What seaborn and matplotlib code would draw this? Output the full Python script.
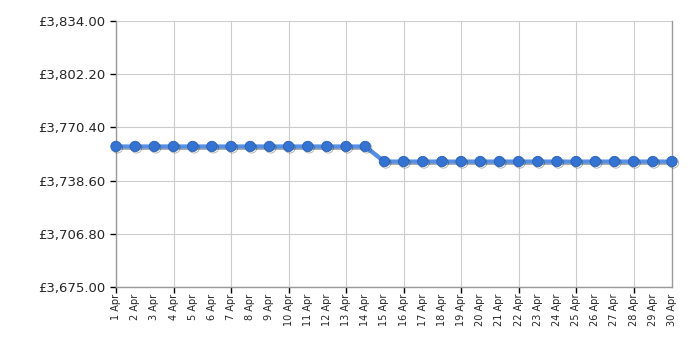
import matplotlib
matplotlib.use("Agg")
import matplotlib.pyplot as plt
import matplotlib.patheffects as pe
import seaborn as sns
import pandas as pd

days = list(range(1, 31))
labels = [f"{d} Apr" for d in days]
prices = [3759.0] * 14 + [3749.99] * 16
yticks = [3675.00, 3706.80, 3738.60, 3770.40, 3802.20, 3834.00]

df = pd.DataFrame({"day": days, "price": prices})

sns.set_style("ticks")
plt.rcParams['font.family'] = ['DejaVu Sans']

fig = plt.figure(figsize=(7, 3.5), dpi=100)
ax = fig.add_axes([116/700, 1 - 287/350, (672-116)/700, (287-21)/350])

sns.lineplot(data=df, x="day", y="price", ax=ax, color="#5590e4", linewidth=3,
             marker="o", markersize=7.5, markerfacecolor="#3573d2",
             markeredgecolor="#2a5fb0", markeredgewidth=0.6, clip_on=False, zorder=5,
             path_effects=[pe.SimpleLineShadow(offset=(1.0, -1.0), shadow_color="#111111", alpha=0.35), pe.Normal()])

ax.set_xlim(1, 30)
ax.set_ylim(3675, 3834)
ax.xaxis.remove_overlapping_locs = False
ax.set_xticks(days)
ax.set_xticklabels(labels, rotation=90, fontsize=7)
ax.set_xticks(days[::3], minor=True)
ax.tick_params(axis="x", which="major", length=0, pad=5)
ax.tick_params(axis="x", which="minor", length=4, width=1, color="black", direction="out", bottom=True)
ax.set_yticks(yticks)
ax.set_yticklabels([f"£{v:,.2f}" for v in yticks], fontsize=9.5)
ax.tick_params(axis="y", which="major", length=4, width=1, color="black", direction="out", left=True)
ax.tick_params(axis="y", which="minor", length=0)
ax.grid(True, axis="x", which="minor", color="#cccccc", linewidth=0.8)
ax.grid(True, axis="y", which="major", color="#cccccc", linewidth=0.8)
ax.set_axisbelow(True)
ax.set_xlabel("")
ax.set_ylabel("")
for s in ax.spines.values():
    s.set_color("#999999")
    s.set_linewidth(1)
ax.spines["top"].set_visible(False)
ax.spines["right"].set_visible(True)

fig.savefig("out.png", dpi=100)
